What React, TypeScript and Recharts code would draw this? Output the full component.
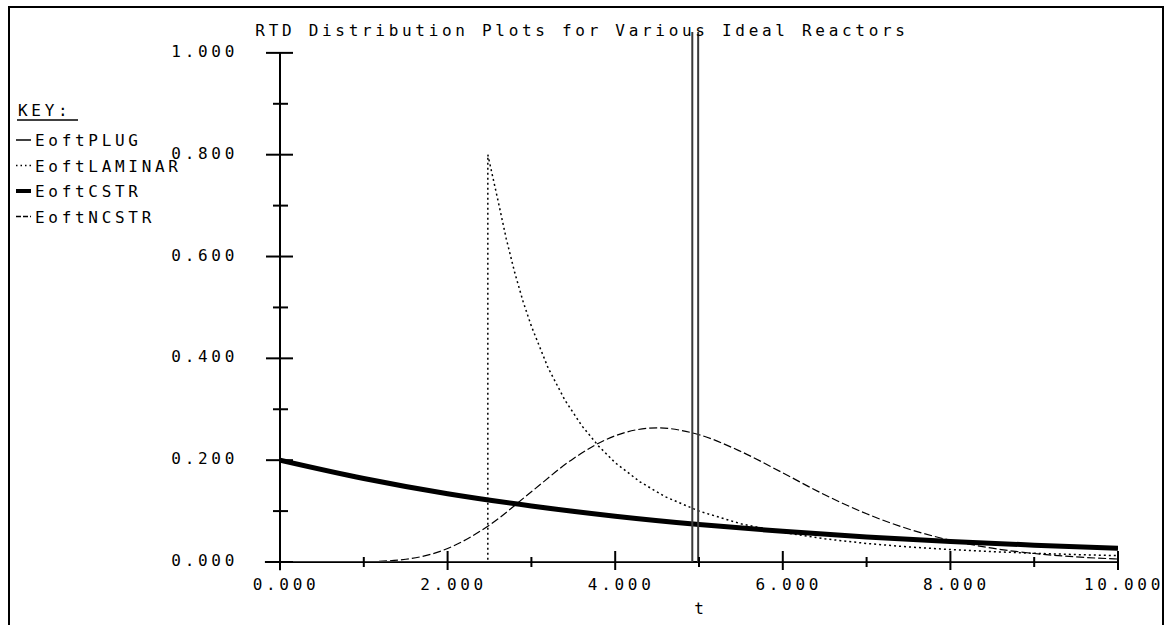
import { LineChart, Line, XAxis, YAxis, ReferenceLine } from 'recharts';

// E(t) curves (t in time units, E in 1/time)
const plugT = [0, 4.92, 4.92, 4.99, 4.99, 10];
const plugE = [0, 0, 14, 14, 0, 0];

const laminarT = [0, 2.48, 2.48, 2.6, 2.7, 2.8, 2.9, 3.0, 3.2, 3.4, 3.6, 3.8, 4.0, 4.3, 4.6, 5.0, 5.5, 6.0, 6.5, 7.0, 7.5, 8.0, 8.5, 9.0, 9.5, 10];
const laminarE = [0, 0, 0.8, 0.711, 0.635, 0.569, 0.512, 0.463, 0.381, 0.318, 0.268, 0.228, 0.195, 0.157, 0.128, 0.1, 0.075, 0.058, 0.0455, 0.0364, 0.0296, 0.0244, 0.0204, 0.0171, 0.0146, 0.0125];

const cstrT = [0, 1, 2, 3, 4, 5, 6, 7, 8, 9, 10];
const cstrE = [0.2, 0.164, 0.134, 0.11, 0.09, 0.0736, 0.0602, 0.0493, 0.0404, 0.0331, 0.0271];

const ncstrT = [0, 0.5, 1, 1.5, 2, 2.5, 3, 3.5, 4, 4.5, 5, 5.5, 6, 6.5, 7, 7.5, 8, 8.5, 9, 9.5, 10];
const ncstrE = [0, 0, 0.0004, 0.0054, 0.0265, 0.0725, 0.138, 0.203, 0.248, 0.2635, 0.25, 0.217, 0.175, 0.132, 0.0947, 0.0648, 0.0426, 0.0271, 0.0167, 0.01, 0.0058];

const xTicks = [0, 1, 2, 3, 4, 5, 6, 7, 8, 9, 10];
const yTicks = [0, 0.1, 0.2, 0.3, 0.4, 0.5, 0.6, 0.7, 0.8, 0.9, 1.0];

const legendNames = ['EoftPLUG', 'EoftLAMINAR', 'EoftCSTR', 'EoftNCSTR'];

const title = 'RTD Distribution Plots for Various Ideal Reactors';

const W = 1170;
const H = 625;
const margin = { top: 32, right: 52, bottom: 23, left: 0 };
const Y_AXIS_W = 280;
const X_AXIS_H = 40;
const AXIS_X = margin.left + Y_AXIS_W;
const AXIS_Y = H - margin.bottom - X_AXIS_H;

const FONT = '"DejaVu Sans Mono", monospace';
const LS = 3.7;

const toPoints = (ts: number[], es: number[]) => ts.map((t, i) => ({ t, e: es[i] }));

const plugData = toPoints(plugT, plugE);
const laminarData = toPoints(laminarT, laminarE);
const cstrData = toPoints(cstrT, cstrE);
const ncstrData = toPoints(ncstrT, ncstrE);

function XTick(props: any) {
  const { x, payload } = props;
  const major = Math.round(payload.value) % 2 === 0;
  return (
    <g>
      <line
        x1={x}
        x2={x}
        y1={AXIS_Y + (major ? -11 : -5)}
        y2={AXIS_Y + (major ? 8 : 5)}
        stroke="#000"
        strokeWidth={2}
      />
      {major && (
        <text x={x + 6} y={AXIS_Y + 28} textAnchor="middle" fontFamily={FONT} fontSize={16} letterSpacing={LS} fill="#000">
          {payload.value.toFixed(3)}
        </text>
      )}
    </g>
  );
}

function YTick(props: any) {
  const { y, payload } = props;
  const major = Math.round(payload.value * 10) % 2 === 0;
  return (
    <g>
      <line
        x1={AXIS_X + (major ? -14 : -7)}
        x2={AXIS_X + (major ? 13 : 8)}
        y1={y}
        y2={y}
        stroke="#000"
        strokeWidth={2}
      />
      {major && (
        <text x={AXIS_X - 42} y={y + 4} textAnchor="end" fontFamily={FONT} fontSize={16} letterSpacing={LS} fill="#000">
          {payload.value.toFixed(3)}
        </text>
      )}
    </g>
  );
}

const legendRows = [
  { dash: undefined, width: 1.5 },
  { dash: '1.5 3', width: 1.5 },
  { dash: undefined, width: 4 },
  { dash: '5 2', width: 1.5 },
];

export default function App() {
  return (
    <div style={{ position: 'absolute', left: 0, top: 0, width: W, height: H, overflow: 'hidden', background: '#fff' }}>
      <div
        style={{
          position: 'absolute',
          left: 8,
          top: 6,
          width: 1156,
          height: 700,
          border: '2px solid #000',
          boxSizing: 'border-box',
        }}
      />
      <div style={{ position: 'absolute', left: 0, top: 0 }}>
        <LineChart width={W} height={H} margin={margin}>
          <XAxis
            type="number"
            dataKey="t"
            domain={[0, 10]}
            ticks={xTicks}
            interval={0}
            height={X_AXIS_H}
            axisLine={false}
            tickLine={false}
            tick={XTick}
            allowDataOverflow
          />
          <YAxis
            type="number"
            dataKey="e"
            domain={[0, 1.041]}
            ticks={yTicks}
            interval={0}
            width={Y_AXIS_W}
            axisLine={false}
            tickLine={false}
            tick={YTick}
            allowDataOverflow
          />
          <ReferenceLine
            segment={[{ x: 0, y: -0.016 }, { x: 0, y: 1 }]}
            stroke="#000"
            strokeWidth={2}
            ifOverflow="visible"
          />
          <ReferenceLine
            segment={[{ x: -0.18, y: 0 }, { x: 10, y: 0 }]}
            stroke="#000"
            strokeWidth={2}
            ifOverflow="visible"
          />
          <Line data={cstrData} dataKey="e" type="monotone" stroke="#000" strokeWidth={5} dot={false} isAnimationActive={false} />
          <Line data={ncstrData} dataKey="e" type="monotone" stroke="#000" strokeWidth={1.2} strokeDasharray="8 3" dot={false} isAnimationActive={false} />
          <Line data={laminarData} dataKey="e" type="linear" stroke="#000" strokeWidth={1.5} strokeDasharray="2 3" dot={false} isAnimationActive={false} />
          <Line data={plugData} dataKey="e" type="linear" stroke="#3a3a3a" strokeWidth={2} dot={false} isAnimationActive={false} />
        </LineChart>
      </div>
      <svg width={W} height={H} style={{ position: 'absolute', left: 0, top: 0, pointerEvents: 'none' }}>
        <text x={582} y={36} textAnchor="middle" fontFamily={FONT} fontSize={16} letterSpacing={LS} fill="#000">
          {title}
        </text>
        <text x={18} y={116} fontFamily={FONT} fontSize={16} letterSpacing={LS} fill="#000">
          KEY:
        </text>
        <line x1={17} x2={78} y1={120} y2={120} stroke="#000" strokeWidth={1.5} />
        {legendNames.map((name, i) => {
          const cy = 140 + i * 25.5;
          const row = legendRows[i];
          return (
            <g key={name}>
              <line x1={16} x2={31} y1={cy} y2={cy} stroke="#000" strokeWidth={row.width} strokeDasharray={row.dash} />
              <text x={35} y={cy + 6} fontFamily={FONT} fontSize={16} letterSpacing={LS} fill="#000">
                {name}
              </text>
            </g>
          );
        })}
        <text x={699} y={614} textAnchor="middle" fontFamily={FONT} fontSize={16} fill="#000">
          t
        </text>
      </svg>
    </div>
  );
}
